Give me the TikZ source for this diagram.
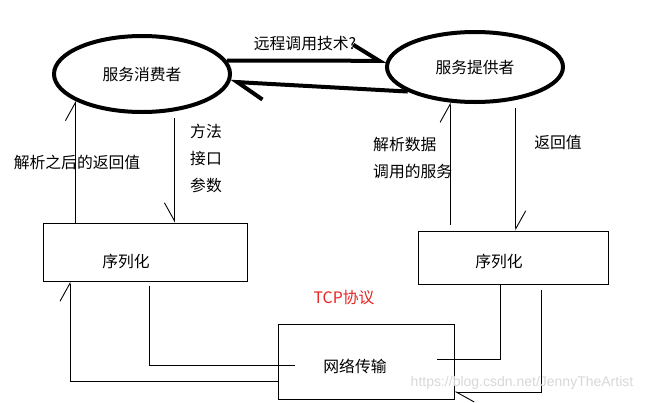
\documentclass[tikz,border=0pt]{standalone}
\usepackage{fontspec}
\setmainfont{Noto Sans CJK SC}
\newfontfamily\wmfont{Liberation Sans}
\usetikzlibrary{arrows.meta,shapes.geometric,calc}
\definecolor{tcpred}{RGB}{232,36,36}
\definecolor{wmgray}{RGB}{215,215,215}

\begin{document}
\begin{tikzpicture}[
  x=1pt,y=-1pt,
  font=\fontsize{15.8}{27}\selectfont,
  party/.style={draw,ellipse,line width=4pt,minimum width=176pt,inner sep=0pt},
  box/.style={draw,line width=1pt,inner sep=0pt},
  wire/.style={line width=0.9pt},
  pipe/.style={line width=4pt,-{Straight Barb[harpoon,length=26pt,width=32pt]}},
  arr/.style={wire,-{Straight Barb[harpoon,length=18pt,width=20pt]}},
  arrs/.style={wire,-{Straight Barb[harpoon,swap,length=18pt,width=20pt]}},
  txt/.style={inner sep=0pt,align=left},
]
\useasboundingbox (0,0) rectangle (658,402);
% Consumer and provider
\node[party,minimum height=76pt] (cons) at (142,74) {服务消费者};
\node[party,minimum height=70pt] (prov) at (475,67) {服务提供者};
\draw[pipe] (cons.9) -- (prov.176);
\draw[pipe] (prov.200) -- (cons.-5);
\node[txt] (rpc) at (305,44) {远程调用技术?};
% Serializers
\node[box,minimum width=204pt,minimum height=58pt,
      label={[shift={(-19pt,-9pt)}]center:序列化}] (lser) at (145,252) {};
\node[box,minimum width=190pt,minimum height=53pt,
      label={[shift={(-14pt,-3.5pt)}]center:序列化}] (rser) at (513,257.5) {};
% Network
\node[box,minimum width=176pt,minimum height=75pt,
      label={[shift={(-11pt,-4.5pt)}]center:网络传输}] (net) at (366,361.5) {};
\node[txt,text=tcpred] (tcp) at (344,298) {TCP协议};
% left side
\draw[arr] (cons.-158.5 |- lser.north) -- (cons.-158.5);
\draw[arrs,shorten <=7pt] (cons.-49) -- (cons.-49 |- lser.north);
\node[txt] (ret) at (77,162) {解析之后的返回值};
\node[txt] (meth) at (206,158) {方法\\接口\\参数};
% right side
\draw[arr,shorten <=6pt] (prov.-125.5 |- rser.north) -- (prov.-125.5);
\draw[arr,shorten <=8pt] (prov.-39.7) -- (prov.-39.7 |- rser.north);
\node[txt,anchor=west] (parse) at (373,158.5) {解析数据\\调用的服务};
\node[txt] (rval) at (558,142) {返回值};
% wires to the network
\coordinate (netinL) at (295,365);
\coordinate (netinR) at (437,359);
\draw[wire,shorten <=4pt] ([xshift=4pt]lser.south) |- (netinL);
\draw[arr] ([yshift=-19.5pt]net.west) -| ([xshift=-75pt]lser.south);
\draw[wire] ([xshift=-13pt]rser.south) |- (netinR);
\draw[arr,shorten <=5pt] ([xshift=28pt]rser.south) |- ([yshift=-30.5pt]net.east);
\node[txt,text=wmgray,font=\wmfont\fontsize{14}{16}\selectfont] (wm) at (522,383)
  {https://blog.csdn.net/JennyTheArtist};
\end{tikzpicture}
\end{document}
